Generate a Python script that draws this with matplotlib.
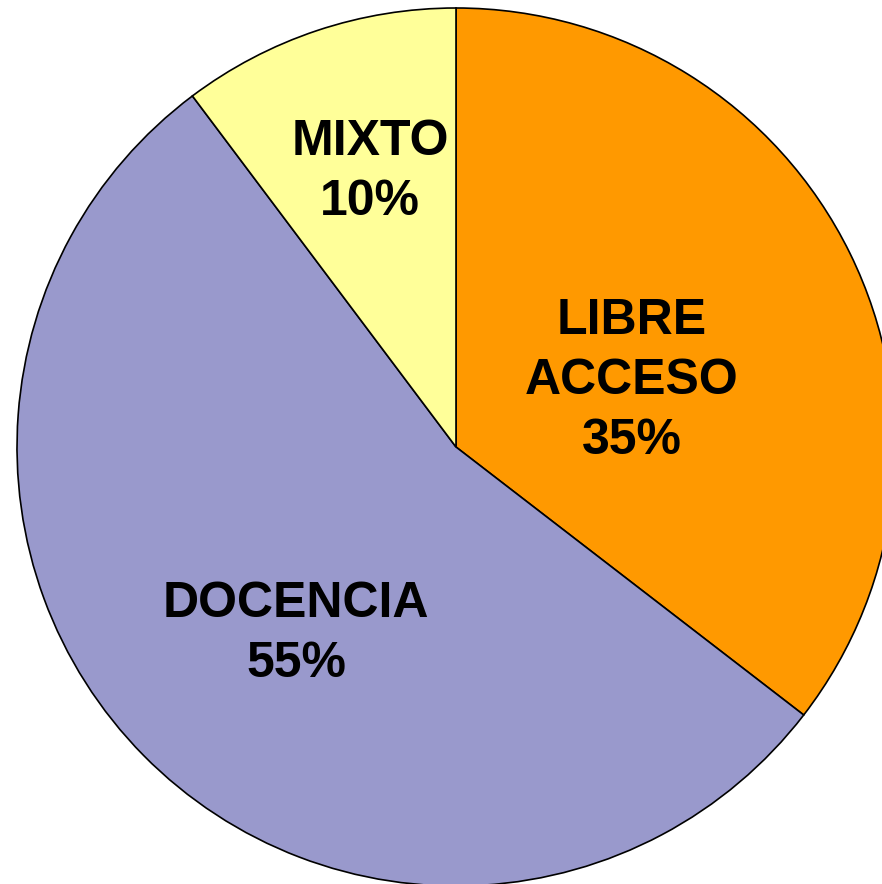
import matplotlib
matplotlib.use("Agg")
import matplotlib.pyplot as plt

labels = ["LIBRE\nACCESO", "DOCENCIA", "MIXTO"]
values = [35.45, 54.3, 10.25]
pct_labels = ["35%", "55%", "10%"]
colors = ["#FF9900", "#9999CC", "#FFFF99"]
# label centres in pixel coordinates (x, y from top)
label_pos = [(632, 381), (296, 634), (370, 172)]

W, H = 882, 884
fig = plt.figure(figsize=(W / 100, H / 100), dpi=100)
ax = fig.add_axes([0, 0, 1, 1])
ax.axis("off")

cx, cy, R = 456, H - 447, 439
wedges, _ = ax.pie(values, colors=colors, startangle=90, counterclock=False,
                   center=(cx, cy), radius=R,
                   wedgeprops=dict(edgecolor="black", linewidth=1.2))
ax.set_xlim(0, W)
ax.set_ylim(0, H)
ax.set_aspect("equal")

for lab, p, (x, y) in zip(labels, pct_labels, label_pos):
    ax.text(x, H - y, f"{lab}\n{p}", ha="center", va="center", multialignment="center",
            fontsize=36, fontweight="bold", family="Liberation Sans", linespacing=1.38)

fig.savefig("out.png", dpi=100)
